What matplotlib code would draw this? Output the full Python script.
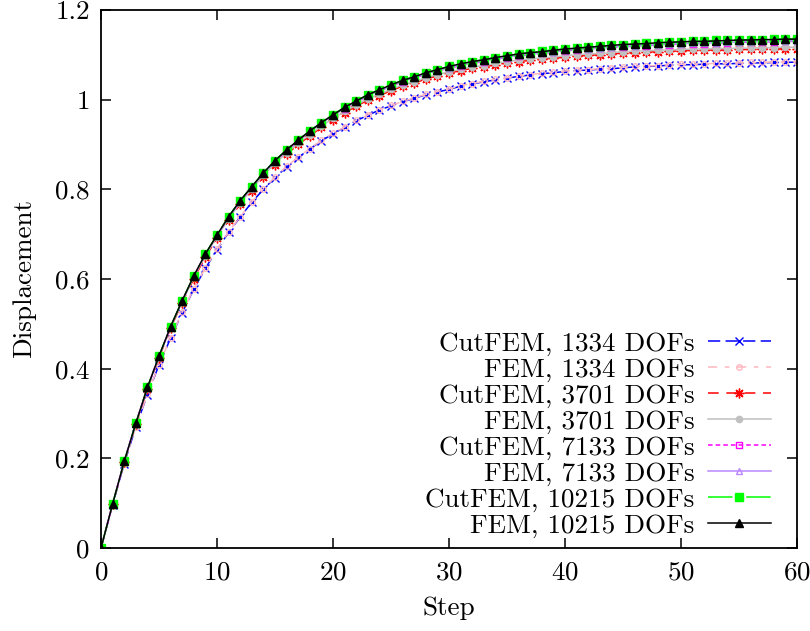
import matplotlib
matplotlib.use("Agg")
import matplotlib.pyplot as plt
from matplotlib.ticker import FuncFormatter, MultipleLocator

plt.rcParams['font.family'] = ['cmr10', 'DejaVu Serif']
plt.rcParams['axes.formatter.use_mathtext'] = True
plt.rcParams['font.size'] = 19.5

steps = list(range(61))

cutfem_1334 = [0.000, 0.096, 0.188, 0.270, 0.342, 0.408, 0.468, 0.525, 0.577, 0.624,
               0.665, 0.704, 0.738, 0.771, 0.800, 0.826, 0.850, 0.871, 0.890, 0.908,
               0.924, 0.938, 0.953, 0.965, 0.977, 0.986, 0.995, 1.003, 1.011, 1.017,
               1.023, 1.030, 1.035, 1.040, 1.044, 1.048, 1.052, 1.055, 1.058, 1.060,
               1.063, 1.065, 1.066, 1.068, 1.069, 1.071, 1.073, 1.074, 1.075, 1.077,
               1.078, 1.078, 1.079, 1.080, 1.080, 1.081, 1.082, 1.082, 1.083, 1.083,
               1.084]
fem_1334 = [0.000, 0.096, 0.188, 0.270, 0.343, 0.409, 0.469, 0.526, 0.578, 0.625,
            0.666, 0.705, 0.739, 0.772, 0.801, 0.827, 0.851, 0.872, 0.891, 0.909,
            0.925, 0.939, 0.954, 0.966, 0.978, 0.987, 0.996, 1.004, 1.012, 1.018,
            1.024, 1.031, 1.036, 1.041, 1.045, 1.049, 1.053, 1.056, 1.059, 1.061,
            1.064, 1.066, 1.067, 1.069, 1.070, 1.072, 1.074, 1.075, 1.076, 1.078,
            1.079, 1.079, 1.080, 1.081, 1.081, 1.082, 1.083, 1.083, 1.084, 1.084,
            1.085]
cutfem_3701 = [0.000, 0.098, 0.191, 0.276, 0.355, 0.424, 0.490, 0.547, 0.601, 0.649,
               0.691, 0.731, 0.767, 0.797, 0.828, 0.855, 0.878, 0.900, 0.919, 0.938,
               0.955, 0.971, 0.985, 0.999, 1.009, 1.020, 1.030, 1.037, 1.046, 1.053,
               1.059, 1.065, 1.070, 1.073, 1.078, 1.082, 1.085, 1.088, 1.090, 1.092,
               1.095, 1.097, 1.099, 1.100, 1.102, 1.104, 1.105, 1.106, 1.107, 1.108,
               1.109, 1.110, 1.110, 1.111, 1.111, 1.112, 1.112, 1.113, 1.113, 1.114,
               1.114]
fem_3701 = [0.000, 0.098, 0.192, 0.277, 0.357, 0.426, 0.492, 0.549, 0.604, 0.652,
            0.694, 0.734, 0.770, 0.800, 0.831, 0.858, 0.881, 0.903, 0.922, 0.941,
            0.958, 0.974, 0.988, 1.002, 1.012, 1.023, 1.033, 1.040, 1.049, 1.056,
            1.062, 1.068, 1.073, 1.076, 1.081, 1.085, 1.088, 1.091, 1.093, 1.095,
            1.098, 1.100, 1.102, 1.103, 1.105, 1.107, 1.108, 1.109, 1.110, 1.111,
            1.112, 1.113, 1.113, 1.114, 1.114, 1.115, 1.115, 1.116, 1.116, 1.117,
            1.117]
cutfem_7133 = [0.000, 0.098, 0.193, 0.278, 0.357, 0.427, 0.493, 0.551, 0.606, 0.655,
               0.696, 0.737, 0.773, 0.804, 0.835, 0.862, 0.886, 0.908, 0.928, 0.947,
               0.963, 0.980, 0.994, 1.008, 1.019, 1.030, 1.040, 1.048, 1.057, 1.064,
               1.070, 1.076, 1.081, 1.085, 1.090, 1.094, 1.098, 1.101, 1.103, 1.106,
               1.109, 1.111, 1.113, 1.115, 1.117, 1.118, 1.119, 1.120, 1.122, 1.123,
               1.124, 1.125, 1.125, 1.126, 1.127, 1.128, 1.128, 1.129, 1.129, 1.130,
               1.130]
fem_7133 = [0.000, 0.098, 0.193, 0.278, 0.357, 0.427, 0.493, 0.551, 0.606, 0.655,
            0.697, 0.738, 0.774, 0.805, 0.836, 0.863, 0.887, 0.909, 0.929, 0.948,
            0.964, 0.981, 0.995, 1.009, 1.020, 1.031, 1.041, 1.049, 1.058, 1.065,
            1.071, 1.077, 1.082, 1.086, 1.091, 1.095, 1.099, 1.102, 1.104, 1.107,
            1.110, 1.112, 1.114, 1.116, 1.118, 1.119, 1.120, 1.121, 1.123, 1.124,
            1.125, 1.126, 1.126, 1.127, 1.128, 1.129, 1.129, 1.130, 1.130, 1.131,
            1.131]
cutfem_10215 = [0.000, 0.098, 0.193, 0.278, 0.358, 0.428, 0.494, 0.552, 0.607, 0.656,
                0.698, 0.739, 0.775, 0.806, 0.837, 0.864, 0.888, 0.910, 0.930, 0.949,
                0.966, 0.983, 0.997, 1.011, 1.022, 1.033, 1.043, 1.051, 1.060, 1.067,
                1.074, 1.080, 1.085, 1.089, 1.094, 1.098, 1.102, 1.105, 1.108, 1.111,
                1.113, 1.115, 1.117, 1.119, 1.121, 1.123, 1.124, 1.126, 1.127, 1.128,
                1.129, 1.130, 1.131, 1.132, 1.132, 1.133, 1.134, 1.134, 1.135, 1.135,
                1.136]
fem_10215 = [0.000, 0.098, 0.193, 0.278, 0.358, 0.428, 0.494, 0.552, 0.607, 0.656,
             0.698, 0.739, 0.775, 0.806, 0.837, 0.864, 0.888, 0.910, 0.930, 0.949,
             0.966, 0.983, 0.997, 1.011, 1.022, 1.033, 1.043, 1.051, 1.060, 1.067,
             1.074, 1.080, 1.085, 1.089, 1.094, 1.098, 1.102, 1.105, 1.107, 1.110,
             1.113, 1.115, 1.117, 1.119, 1.121, 1.123, 1.124, 1.125, 1.127, 1.128,
             1.129, 1.130, 1.130, 1.131, 1.132, 1.133, 1.133, 1.134, 1.134, 1.135,
             1.135]

fig = plt.figure(figsize=(8.1, 6.31), dpi=100)
ax = fig.add_axes([101/810, 83/631, 696/810, 538/631])

# label, data, color, dashes, marker, marker size, filled
series = [
    ("CutFEM, 1334 DOFs", cutfem_1334, "#0000ff", (8, 3.5), "x", 6, True),
    ("FEM, 1334 DOFs", fem_1334, "#ffb8c0", (6, 5, 3, 5), "o", 4, False),
    ("CutFEM, 3701 DOFs", cutfem_3701, "#ff0000", (7, 5), (8, 2, 0), 7, True),
    ("FEM, 3701 DOFs", fem_3701, "#c0c0c0", None, "o", 4.5, True),
    ("CutFEM, 7133 DOFs", cutfem_7133, "#ff00ff", (3, 2), "s", 5, False),
    ("FEM, 7133 DOFs", fem_7133, "#bb88ff", None, "^", 5, False),
    ("CutFEM, 10215 DOFs", cutfem_10215, "#00ff00", (16, 4, 1, 4), "s", 6, True),
    ("FEM, 10215 DOFs", fem_10215, "#000000", None, "^", 6, True),
]

for label, vals, col, dash, mk, ms, filled in series:
    line, = ax.plot(steps, vals, color=col, lw=1.1, marker=mk, markersize=ms,
                    markerfacecolor=col if filled else "none",
                    markeredgecolor=col, markeredgewidth=1, label=label)
    if dash is not None:
        line.set_dashes(dash)

ax.set_xlim(0, 60)
ax.set_ylim(0, 1.2)
ax.xaxis.set_major_locator(MultipleLocator(10))
ax.yaxis.set_major_locator(MultipleLocator(0.2))
ax.yaxis.set_major_formatter(FuncFormatter(lambda v, p: "%g" % round(v, 2)))
ax.tick_params(direction="in", top=True, right=True, length=7, width=1.1,
               labelsize=19.5)
ax.tick_params(axis="x", pad=9)
ax.tick_params(axis="y", pad=8)
for s in ax.spines.values():
    s.set_linewidth(1.3)

ax.set_xlabel("Step", fontsize=19.5, labelpad=9)
ax.set_ylabel("Displacement", fontsize=19.5, labelpad=14)

ax.legend(loc="lower right", bbox_to_anchor=((771 - 101) / 696, 10 / 538),
          frameon=False, markerfirst=False, handlelength=2.33,
          handletextpad=0.5, labelspacing=0.07, borderpad=0, borderaxespad=0,
          fontsize=19.5)

fig.savefig("out.png", dpi=100)
